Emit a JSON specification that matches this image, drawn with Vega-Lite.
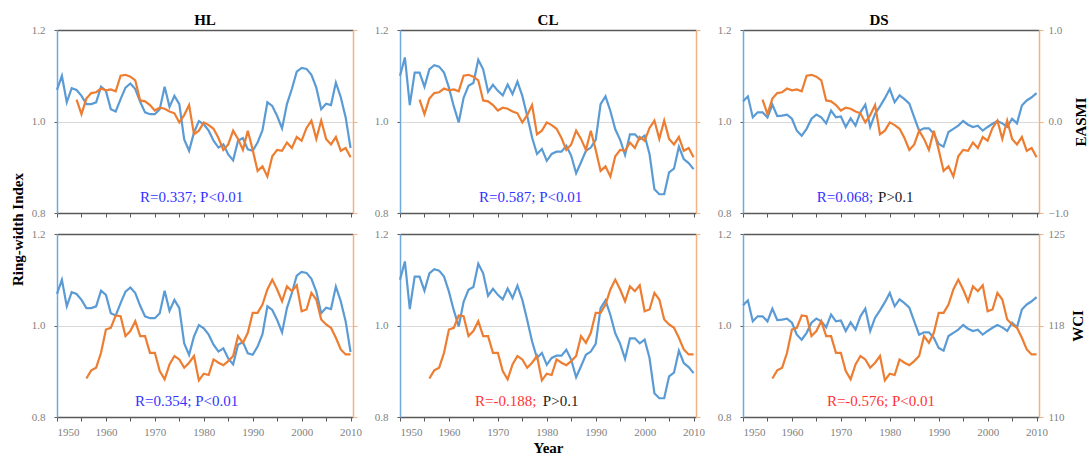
{
  "$schema": "https://vega.github.io/schema/vega-lite/v6.json",
  "padding": {"left": 10, "top": 13, "right": 5, "bottom": 2},
  "background": "white",
  "config": {
    "font": "Liberation Serif",
    "view": {"stroke": null},
    "axis": {"labelFont": "Liberation Serif", "labelFontSize": 11, "labelColor": "#7f7f7f", "titleFont": "Liberation Serif", "titleFontSize": 15, "titleFontWeight": "bold", "titleColor": "#000000", "grid": false},
    "title": {"font": "Liberation Serif", "fontSize": 15, "fontWeight": "bold", "color": "#000000", "offset": -4}
  },
  "datasets": {
    "rwi": [
      {"site":"HL","year":1950,"rwi":1.069},{"site":"HL","year":1951,"rwi":1.100},{"site":"HL","year":1952,"rwi":1.042},{"site":"HL","year":1953,"rwi":1.073},{"site":"HL","year":1954,"rwi":1.069},{"site":"HL","year":1955,"rwi":1.056},{"site":"HL","year":1956,"rwi":1.038},{"site":"HL","year":1957,"rwi":1.038},{"site":"HL","year":1958,"rwi":1.042},{"site":"HL","year":1959,"rwi":1.076},
      {"site":"HL","year":1960,"rwi":1.067},{"site":"HL","year":1961,"rwi":1.027},{"site":"HL","year":1962,"rwi":1.022},{"site":"HL","year":1963,"rwi":1.049},{"site":"HL","year":1964,"rwi":1.074},{"site":"HL","year":1965,"rwi":1.083},{"site":"HL","year":1966,"rwi":1.071},{"site":"HL","year":1967,"rwi":1.043},{"site":"HL","year":1968,"rwi":1.020},{"site":"HL","year":1969,"rwi":1.016},
      {"site":"HL","year":1970,"rwi":1.016},{"site":"HL","year":1971,"rwi":1.027},{"site":"HL","year":1972,"rwi":1.076},{"site":"HL","year":1973,"rwi":1.032},{"site":"HL","year":1974,"rwi":1.056},{"site":"HL","year":1975,"rwi":1.038},{"site":"HL","year":1976,"rwi":0.961},{"site":"HL","year":1977,"rwi":0.936},{"site":"HL","year":1978,"rwi":0.976},{"site":"HL","year":1979,"rwi":1.001},
      {"site":"HL","year":1980,"rwi":0.994},{"site":"HL","year":1981,"rwi":0.980},{"site":"HL","year":1982,"rwi":0.958},{"site":"HL","year":1983,"rwi":0.943},{"site":"HL","year":1984,"rwi":0.950},{"site":"HL","year":1985,"rwi":0.928},{"site":"HL","year":1986,"rwi":0.915},{"site":"HL","year":1987,"rwi":0.958},{"site":"HL","year":1988,"rwi":0.964},{"site":"HL","year":1989,"rwi":0.939},
      {"site":"HL","year":1990,"rwi":0.936},{"site":"HL","year":1991,"rwi":0.954},{"site":"HL","year":1992,"rwi":0.981},{"site":"HL","year":1993,"rwi":1.042},{"site":"HL","year":1994,"rwi":1.034},{"site":"HL","year":1995,"rwi":1.012},{"site":"HL","year":1996,"rwi":0.985},{"site":"HL","year":1997,"rwi":1.038},{"site":"HL","year":1998,"rwi":1.071},{"site":"HL","year":1999,"rwi":1.109},
      {"site":"HL","year":2000,"rwi":1.117},{"site":"HL","year":2001,"rwi":1.115},{"site":"HL","year":2002,"rwi":1.102},{"site":"HL","year":2003,"rwi":1.074},{"site":"HL","year":2004,"rwi":1.027},{"site":"HL","year":2005,"rwi":1.039},{"site":"HL","year":2006,"rwi":1.036},{"site":"HL","year":2007,"rwi":1.085},{"site":"HL","year":2008,"rwi":1.053},{"site":"HL","year":2009,"rwi":1.009},
      {"site":"HL","year":2010,"rwi":0.942},
      {"site":"CL","year":1950,"rwi":1.100},{"site":"CL","year":1951,"rwi":1.140},{"site":"CL","year":1952,"rwi":1.036},{"site":"CL","year":1953,"rwi":1.107},{"site":"CL","year":1954,"rwi":1.107},{"site":"CL","year":1955,"rwi":1.076},{"site":"CL","year":1956,"rwi":1.114},{"site":"CL","year":1957,"rwi":1.123},{"site":"CL","year":1958,"rwi":1.120},{"site":"CL","year":1959,"rwi":1.107},
      {"site":"CL","year":1960,"rwi":1.074},{"site":"CL","year":1961,"rwi":1.033},{"site":"CL","year":1962,"rwi":0.998},{"site":"CL","year":1963,"rwi":1.052},{"site":"CL","year":1964,"rwi":1.078},{"site":"CL","year":1965,"rwi":1.084},{"site":"CL","year":1966,"rwi":1.135},{"site":"CL","year":1967,"rwi":1.114},{"site":"CL","year":1968,"rwi":1.065},{"site":"CL","year":1969,"rwi":1.080},
      {"site":"CL","year":1970,"rwi":1.067},{"site":"CL","year":1971,"rwi":1.057},{"site":"CL","year":1972,"rwi":1.081},{"site":"CL","year":1973,"rwi":1.060},{"site":"CL","year":1974,"rwi":1.087},{"site":"CL","year":1975,"rwi":1.056},{"site":"CL","year":1976,"rwi":1.012},{"site":"CL","year":1977,"rwi":0.965},{"site":"CL","year":1978,"rwi":0.929},{"site":"CL","year":1979,"rwi":0.940},
      {"site":"CL","year":1980,"rwi":0.914},{"site":"CL","year":1981,"rwi":0.929},{"site":"CL","year":1982,"rwi":0.934},{"site":"CL","year":1983,"rwi":0.934},{"site":"CL","year":1984,"rwi":0.947},{"site":"CL","year":1985,"rwi":0.925},{"site":"CL","year":1986,"rwi":0.887},{"site":"CL","year":1987,"rwi":0.911},{"site":"CL","year":1988,"rwi":0.936},{"site":"CL","year":1989,"rwi":0.943},
      {"site":"CL","year":1990,"rwi":0.960},{"site":"CL","year":1991,"rwi":1.038},{"site":"CL","year":1992,"rwi":1.055},{"site":"CL","year":1993,"rwi":1.023},{"site":"CL","year":1994,"rwi":0.983},{"site":"CL","year":1995,"rwi":0.960},{"site":"CL","year":1996,"rwi":0.927},{"site":"CL","year":1997,"rwi":0.972},{"site":"CL","year":1998,"rwi":0.972},{"site":"CL","year":1999,"rwi":0.961},
      {"site":"CL","year":2000,"rwi":0.969},{"site":"CL","year":2001,"rwi":0.929},{"site":"CL","year":2002,"rwi":0.852},{"site":"CL","year":2003,"rwi":0.841},{"site":"CL","year":2004,"rwi":0.841},{"site":"CL","year":2005,"rwi":0.889},{"site":"CL","year":2006,"rwi":0.897},{"site":"CL","year":2007,"rwi":0.945},{"site":"CL","year":2008,"rwi":0.918},{"site":"CL","year":2009,"rwi":0.909},
      {"site":"CL","year":2010,"rwi":0.896},
      {"site":"DS","year":1950,"rwi":1.044},{"site":"DS","year":1951,"rwi":1.055},{"site":"DS","year":1952,"rwi":1.009},{"site":"DS","year":1953,"rwi":1.020},{"site":"DS","year":1954,"rwi":1.020},{"site":"DS","year":1955,"rwi":1.009},{"site":"DS","year":1956,"rwi":1.037},{"site":"DS","year":1957,"rwi":1.012},{"site":"DS","year":1958,"rwi":1.013},{"site":"DS","year":1959,"rwi":1.015},
      {"site":"DS","year":1960,"rwi":1.006},{"site":"DS","year":1961,"rwi":0.980},{"site":"DS","year":1962,"rwi":0.969},{"site":"DS","year":1963,"rwi":0.984},{"site":"DS","year":1964,"rwi":1.006},{"site":"DS","year":1965,"rwi":1.015},{"site":"DS","year":1966,"rwi":1.009},{"site":"DS","year":1967,"rwi":0.996},{"site":"DS","year":1968,"rwi":1.024},{"site":"DS","year":1969,"rwi":1.009},
      {"site":"DS","year":1970,"rwi":1.011},{"site":"DS","year":1971,"rwi":0.988},{"site":"DS","year":1972,"rwi":1.007},{"site":"DS","year":1973,"rwi":0.991},{"site":"DS","year":1974,"rwi":1.020},{"site":"DS","year":1975,"rwi":1.037},{"site":"DS","year":1976,"rwi":0.988},{"site":"DS","year":1977,"rwi":1.017},{"site":"DS","year":1978,"rwi":1.033},{"site":"DS","year":1979,"rwi":1.051},
      {"site":"DS","year":1980,"rwi":1.071},{"site":"DS","year":1981,"rwi":1.042},{"site":"DS","year":1982,"rwi":1.057},{"site":"DS","year":1983,"rwi":1.049},{"site":"DS","year":1984,"rwi":1.039},{"site":"DS","year":1985,"rwi":1.009},{"site":"DS","year":1986,"rwi":0.980},{"site":"DS","year":1987,"rwi":0.985},{"site":"DS","year":1988,"rwi":0.985},{"site":"DS","year":1989,"rwi":0.973},
      {"site":"DS","year":1990,"rwi":0.951},{"site":"DS","year":1991,"rwi":0.945},{"site":"DS","year":1992,"rwi":0.977},{"site":"DS","year":1993,"rwi":0.984},{"site":"DS","year":1994,"rwi":0.991},{"site":"DS","year":1995,"rwi":1.001},{"site":"DS","year":1996,"rwi":0.993},{"site":"DS","year":1997,"rwi":0.988},{"site":"DS","year":1998,"rwi":0.991},{"site":"DS","year":1999,"rwi":0.980},
      {"site":"DS","year":2000,"rwi":0.988},{"site":"DS","year":2001,"rwi":0.995},{"site":"DS","year":2002,"rwi":1.001},{"site":"DS","year":2003,"rwi":0.996},{"site":"DS","year":2004,"rwi":0.988},{"site":"DS","year":2005,"rwi":1.006},{"site":"DS","year":2006,"rwi":0.996},{"site":"DS","year":2007,"rwi":1.035},{"site":"DS","year":2008,"rwi":1.046},{"site":"DS","year":2009,"rwi":1.053},
      {"site":"DS","year":2010,"rwi":1.062}
    ],
    "clim": [
      {"index":"EASMI","year":1954,"value":0.24},{"index":"EASMI","year":1955,"value":0.08},{"index":"EASMI","year":1956,"value":0.25},{"index":"EASMI","year":1957,"value":0.31},{"index":"EASMI","year":1958,"value":0.32},{"index":"EASMI","year":1959,"value":0.36},{"index":"EASMI","year":1960,"value":0.34},{"index":"EASMI","year":1961,"value":0.35},{"index":"EASMI","year":1962,"value":0.33},{"index":"EASMI","year":1963,"value":0.50},
      {"index":"EASMI","year":1964,"value":0.51},{"index":"EASMI","year":1965,"value":0.49},{"index":"EASMI","year":1966,"value":0.45},{"index":"EASMI","year":1967,"value":0.23},{"index":"EASMI","year":1968,"value":0.22},{"index":"EASMI","year":1969,"value":0.18},{"index":"EASMI","year":1970,"value":0.12},{"index":"EASMI","year":1971,"value":0.15},{"index":"EASMI","year":1972,"value":0.14},{"index":"EASMI","year":1973,"value":0.11},
      {"index":"EASMI","year":1974,"value":0.09},{"index":"EASMI","year":1975,"value":-0.01},{"index":"EASMI","year":1976,"value":0.07},{"index":"EASMI","year":1977,"value":0.18},{"index":"EASMI","year":1978,"value":-0.14},{"index":"EASMI","year":1979,"value":-0.10},{"index":"EASMI","year":1980,"value":-0.01},{"index":"EASMI","year":1981,"value":-0.04},{"index":"EASMI","year":1982,"value":-0.08},{"index":"EASMI","year":1983,"value":-0.18},
      {"index":"EASMI","year":1984,"value":-0.31},{"index":"EASMI","year":1985,"value":-0.25},{"index":"EASMI","year":1986,"value":-0.10},{"index":"EASMI","year":1987,"value":-0.19},{"index":"EASMI","year":1988,"value":-0.31},{"index":"EASMI","year":1989,"value":-0.10},{"index":"EASMI","year":1990,"value":-0.31},{"index":"EASMI","year":1991,"value":-0.54},{"index":"EASMI","year":1992,"value":-0.49},{"index":"EASMI","year":1993,"value":-0.60},
      {"index":"EASMI","year":1994,"value":-0.38},{"index":"EASMI","year":1995,"value":-0.31},{"index":"EASMI","year":1996,"value":-0.32},{"index":"EASMI","year":1997,"value":-0.23},{"index":"EASMI","year":1998,"value":-0.29},{"index":"EASMI","year":1999,"value":-0.17},{"index":"EASMI","year":2000,"value":-0.21},{"index":"EASMI","year":2001,"value":-0.07},{"index":"EASMI","year":2002,"value":0.01},{"index":"EASMI","year":2003,"value":-0.19},
      {"index":"EASMI","year":2004,"value":0.01},{"index":"EASMI","year":2005,"value":-0.19},{"index":"EASMI","year":2006,"value":-0.25},{"index":"EASMI","year":2007,"value":-0.17},{"index":"EASMI","year":2008,"value":-0.32},{"index":"EASMI","year":2009,"value":-0.29},{"index":"EASMI","year":2010,"value":-0.39},
      {"index":"WCI","year":1956,"value":113.16},{"index":"WCI","year":1957,"value":113.82},{"index":"WCI","year":1958,"value":114.04},{"index":"WCI","year":1959,"value":115.26},{"index":"WCI","year":1960,"value":117.17},{"index":"WCI","year":1961,"value":117.31},{"index":"WCI","year":1962,"value":118.32},{"index":"WCI","year":1963,"value":118.26},{"index":"WCI","year":1964,"value":116.63},{"index":"WCI","year":1965,"value":117.04},
      {"index":"WCI","year":1966,"value":117.85},{"index":"WCI","year":1967,"value":116.63},{"index":"WCI","year":1968,"value":116.63},{"index":"WCI","year":1969,"value":115.26},{"index":"WCI","year":1970,"value":115.26},{"index":"WCI","year":1971,"value":113.76},{"index":"WCI","year":1972,"value":113.08},{"index":"WCI","year":1973,"value":114.31},{"index":"WCI","year":1974,"value":115.0},{"index":"WCI","year":1975,"value":114.72},
      {"index":"WCI","year":1976,"value":114.04},{"index":"WCI","year":1977,"value":114.45},{"index":"WCI","year":1978,"value":115.0},{"index":"WCI","year":1979,"value":113.0},{"index":"WCI","year":1980,"value":113.55},{"index":"WCI","year":1981,"value":113.44},{"index":"WCI","year":1982,"value":114.72},{"index":"WCI","year":1983,"value":114.45},{"index":"WCI","year":1984,"value":114.25},{"index":"WCI","year":1985,"value":114.58},
      {"index":"WCI","year":1986,"value":115.0},{"index":"WCI","year":1987,"value":116.63},{"index":"WCI","year":1988,"value":116.08},{"index":"WCI","year":1989,"value":116.9},{"index":"WCI","year":1990,"value":118.54},{"index":"WCI","year":1991,"value":118.54},{"index":"WCI","year":1992,"value":119.22},{"index":"WCI","year":1993,"value":120.45},{"index":"WCI","year":1994,"value":121.26},{"index":"WCI","year":1995,"value":120.45},
      {"index":"WCI","year":1996,"value":119.49},{"index":"WCI","year":1997,"value":120.72},{"index":"WCI","year":1998,"value":120.31},{"index":"WCI","year":1999,"value":120.8},{"index":"WCI","year":2000,"value":118.67},{"index":"WCI","year":2001,"value":118.81},{"index":"WCI","year":2002,"value":120.17},{"index":"WCI","year":2003,"value":119.63},{"index":"WCI","year":2004,"value":117.99},{"index":"WCI","year":2005,"value":117.58},
      {"index":"WCI","year":2006,"value":117.31},{"index":"WCI","year":2007,"value":116.49},{"index":"WCI","year":2008,"value":115.54},{"index":"WCI","year":2009,"value":115.13},{"index":"WCI","year":2010,"value":115.13}
    ],
    "notes": [
      {"panel":"HL-EASMI","part":"whole","year":1977.5,"rwi":0.834,"label":"R=0.337; P<0.01","tone":"pos"},
      {"panel":"CL-EASMI","part":"whole","year":1976.7,"rwi":0.834,"label":"R=0.587; P<0.01","tone":"pos"},
      {"panel":"DS-EASMI","part":"lead","year":1976.6,"rwi":0.834,"label":"R=0.068;","tone":"pos"},
      {"panel":"DS-EASMI","part":"tail","year":1977.6,"rwi":0.834,"label":"P>0.1","tone":"ns"},
      {"panel":"HL-WCI","part":"whole","year":1976.5,"rwi":0.834,"label":"R=0.354; P<0.01","tone":"pos"},
      {"panel":"CL-WCI","part":"lead","year":1977.9,"rwi":0.834,"label":"R=-0.188;","tone":"neg"},
      {"panel":"CL-WCI","part":"tail","year":1979.2,"rwi":0.834,"label":"P>0.1","tone":"ns"},
      {"panel":"DS-WCI","part":"whole","year":1978.2,"rwi":0.834,"label":"R=-0.576; P<0.01","tone":"neg"}
    ]
  },
  "columns": 3,
  "spacing": {"row": 21, "column": 47},
  "bounds": "flush",
  "resolve": {"scale": {"x": "independent", "y": "independent", "color": "independent"}},
  "concat": [
    {
      "width": 296, "height": 183,
      "title": {"text": "HL"},
      "layer": [
        {"data": {"name": "rwi"}, "transform": [{"filter": "datum.site === 'HL'"}],
         "mark": {"type": "line", "color": "#5b9bd5", "strokeWidth": 2.2},
         "encoding": {
           "x": {"field": "year", "type": "quantitative", "scale": {"domain": [1950, 2010.5], "nice": false, "zero": false}, "axis": {"orient": "bottom", "values": [1950,1955,1960,1965,1970,1975,1980,1985,1990,1995,2000,2005,2010], "labels": false, "domainColor": "#595959", "domainWidth": 1.5, "tickColor": "#595959", "tickSize": 4, "title": null}},
           "y": {"field": "rwi", "type": "quantitative", "scale": {"domain": [0.8, 1.2], "nice": false, "zero": false}, "axis": {"orient": "left", "values": [0.8, 1.0, 1.2], "format": ".1f", "domainColor": "#6fa8dc", "domainWidth": 1.5, "tickColor": "#595959", "tickSize": 3, "labelPadding": 9, "grid": true, "gridColor": "#d9d9d9", "gridOpacity": {"condition": {"test": "abs(datum.value - 1) < 0.001", "value": 1}, "value": 0}, "title": "Ring-width Index", "titleY": 199, "titlePadding": 6}}
         }},
        {"data": {"name": "clim"}, "transform": [{"filter": "datum.index === 'EASMI'"}],
         "mark": {"type": "line", "color": "#ed7d31", "strokeWidth": 2.2},
         "encoding": {
           "x": {"field": "year", "type": "quantitative", "scale": {"domain": [1950, 2010.5], "nice": false, "zero": false}, "axis": {"orient": "top", "ticks": false, "labels": false, "domainColor": "#595959", "domainWidth": 1.5, "title": null}},
           "y": {"field": "value", "type": "quantitative", "scale": {"domain": [-1, 1], "nice": false, "zero": false}, "axis": {"orient": "right", "values": [-1, 0, 1], "labels": false, "domainColor": "#f4b183", "domainWidth": 1.5, "tickColor": "#f4b183", "tickSize": 4, "title": null}}
         }},
        {"data": {"name": "notes"}, "transform": [{"filter": "datum.panel === 'HL-EASMI'"}],
         "mark": {"type": "text", "font": "Liberation Serif", "fontSize": 15, "align": "center", "baseline": "middle"},
         "encoding": {
           "x": {"field": "year", "type": "quantitative", "scale": {"domain": [1950, 2010.5], "nice": false, "zero": false}, "axis": null},
           "y": {"field": "rwi", "type": "quantitative", "scale": {"domain": [0.8, 1.2], "nice": false, "zero": false}, "axis": null},
           "text": {"field": "label"},
           "color": {"field": "tone", "type": "nominal", "scale": {"domain": ["pos", "neg", "ns"], "range": ["#3333ff", "#ff3333", "#1a1a1a"]}, "legend": null}
         }}
      ],
      "resolve": {"scale": {"y": "independent"}, "axis": {"x": "independent"}}
    },
    {
      "width": 296, "height": 183,
      "title": {"text": "CL"},
      "layer": [
        {"data": {"name": "rwi"}, "transform": [{"filter": "datum.site === 'CL'"}],
         "mark": {"type": "line", "color": "#5b9bd5", "strokeWidth": 2.2},
         "encoding": {
           "x": {"field": "year", "type": "quantitative", "scale": {"domain": [1950, 2010.5], "nice": false, "zero": false}, "axis": {"orient": "bottom", "values": [1950,1955,1960,1965,1970,1975,1980,1985,1990,1995,2000,2005,2010], "labels": false, "domainColor": "#595959", "domainWidth": 1.5, "tickColor": "#595959", "tickSize": 4, "title": null}},
           "y": {"field": "rwi", "type": "quantitative", "scale": {"domain": [0.8, 1.2], "nice": false, "zero": false}, "axis": {"orient": "left", "values": [0.8, 1.0, 1.2], "format": ".1f", "domainColor": "#6fa8dc", "domainWidth": 1.5, "tickColor": "#595959", "tickSize": 3, "labelPadding": 9, "grid": true, "gridColor": "#d9d9d9", "gridOpacity": {"condition": {"test": "abs(datum.value - 1) < 0.001", "value": 1}, "value": 0}, "title": null}}
         }},
        {"data": {"name": "clim"}, "transform": [{"filter": "datum.index === 'EASMI'"}],
         "mark": {"type": "line", "color": "#ed7d31", "strokeWidth": 2.2},
         "encoding": {
           "x": {"field": "year", "type": "quantitative", "scale": {"domain": [1950, 2010.5], "nice": false, "zero": false}, "axis": {"orient": "top", "ticks": false, "labels": false, "domainColor": "#595959", "domainWidth": 1.5, "title": null}},
           "y": {"field": "value", "type": "quantitative", "scale": {"domain": [-1, 1], "nice": false, "zero": false}, "axis": {"orient": "right", "values": [-1, 0, 1], "labels": false, "domainColor": "#f4b183", "domainWidth": 1.5, "tickColor": "#f4b183", "tickSize": 4, "title": null}}
         }},
        {"data": {"name": "notes"}, "transform": [{"filter": "datum.panel === 'CL-EASMI'"}],
         "mark": {"type": "text", "font": "Liberation Serif", "fontSize": 15, "align": "center", "baseline": "middle"},
         "encoding": {
           "x": {"field": "year", "type": "quantitative", "scale": {"domain": [1950, 2010.5], "nice": false, "zero": false}, "axis": null},
           "y": {"field": "rwi", "type": "quantitative", "scale": {"domain": [0.8, 1.2], "nice": false, "zero": false}, "axis": null},
           "text": {"field": "label"},
           "color": {"field": "tone", "type": "nominal", "scale": {"domain": ["pos", "neg", "ns"], "range": ["#3333ff", "#ff3333", "#1a1a1a"]}, "legend": null}
         }}
      ],
      "resolve": {"scale": {"y": "independent"}, "axis": {"x": "independent"}}
    },
    {
      "width": 296, "height": 183,
      "title": {"text": "DS", "dx": -12},
      "layer": [
        {"data": {"name": "rwi"}, "transform": [{"filter": "datum.site === 'DS'"}],
         "mark": {"type": "line", "color": "#5b9bd5", "strokeWidth": 2.2},
         "encoding": {
           "x": {"field": "year", "type": "quantitative", "scale": {"domain": [1950, 2010.5], "nice": false, "zero": false}, "axis": {"orient": "bottom", "values": [1950,1955,1960,1965,1970,1975,1980,1985,1990,1995,2000,2005,2010], "labels": false, "domainColor": "#595959", "domainWidth": 1.5, "tickColor": "#595959", "tickSize": 4, "title": null}},
           "y": {"field": "rwi", "type": "quantitative", "scale": {"domain": [0.8, 1.2], "nice": false, "zero": false}, "axis": {"orient": "left", "values": [0.8, 1.0, 1.2], "format": ".1f", "domainColor": "#6fa8dc", "domainWidth": 1.5, "tickColor": "#595959", "tickSize": 3, "labelPadding": 9, "grid": true, "gridColor": "#d9d9d9", "gridOpacity": {"condition": {"test": "abs(datum.value - 1) < 0.001", "value": 1}, "value": 0}, "title": null}}
         }},
        {"data": {"name": "clim"}, "transform": [{"filter": "datum.index === 'EASMI'"}],
         "mark": {"type": "line", "color": "#ed7d31", "strokeWidth": 2.2},
         "encoding": {
           "x": {"field": "year", "type": "quantitative", "scale": {"domain": [1950, 2010.5], "nice": false, "zero": false}, "axis": {"orient": "top", "ticks": false, "labels": false, "domainColor": "#595959", "domainWidth": 1.5, "title": null}},
           "y": {"field": "value", "type": "quantitative", "scale": {"domain": [-1, 1], "nice": false, "zero": false}, "axis": {"orient": "right", "values": [-1, 0, 1], "format": ".1f", "labels": true, "labelPadding": 5, "domainColor": "#f4b183", "domainWidth": 1.5, "tickColor": "#f4b183", "tickSize": 4, "title": "EASMI", "titleAngle": 270, "titleBaseline": "top", "titlePadding": 6}}
         }},
        {"data": {"name": "notes"}, "transform": [{"filter": "datum.panel === 'DS-EASMI' && datum.part === 'lead'"}],
         "mark": {"type": "text", "font": "Liberation Serif", "fontSize": 15, "align": "right", "baseline": "middle"},
         "encoding": {
           "x": {"field": "year", "type": "quantitative", "scale": {"domain": [1950, 2010.5], "nice": false, "zero": false}, "axis": null},
           "y": {"field": "rwi", "type": "quantitative", "scale": {"domain": [0.8, 1.2], "nice": false, "zero": false}, "axis": null},
           "text": {"field": "label"},
           "color": {"field": "tone", "type": "nominal", "scale": {"domain": ["pos", "neg", "ns"], "range": ["#3333ff", "#ff3333", "#1a1a1a"]}, "legend": null}
         }},
        {"data": {"name": "notes"}, "transform": [{"filter": "datum.panel === 'DS-EASMI' && datum.part === 'tail'"}],
         "mark": {"type": "text", "font": "Liberation Serif", "fontSize": 15, "align": "left", "baseline": "middle"},
         "encoding": {
           "x": {"field": "year", "type": "quantitative", "scale": {"domain": [1950, 2010.5], "nice": false, "zero": false}, "axis": null},
           "y": {"field": "rwi", "type": "quantitative", "scale": {"domain": [0.8, 1.2], "nice": false, "zero": false}, "axis": null},
           "text": {"field": "label"},
           "color": {"field": "tone", "type": "nominal", "scale": {"domain": ["pos", "neg", "ns"], "range": ["#3333ff", "#ff3333", "#1a1a1a"]}, "legend": null}
         }}
      ],
      "resolve": {"scale": {"y": "independent"}, "axis": {"x": "independent"}}
    },
    {
      "width": 296, "height": 183,
      "layer": [
        {"data": {"name": "rwi"}, "transform": [{"filter": "datum.site === 'HL'"}],
         "mark": {"type": "line", "color": "#5b9bd5", "strokeWidth": 2.2},
         "encoding": {
           "x": {"field": "year", "type": "quantitative", "scale": {"domain": [1950, 2010.5], "nice": false, "zero": false}, "axis": {"orient": "bottom", "values": [1950,1955,1960,1965,1970,1975,1980,1985,1990,1995,2000,2005,2010], "format": "d", "labelExpr": "datum.value % 10 === 0 ? datum.label : ''", "labelPadding": 5, "domainColor": "#595959", "domainWidth": 1.5, "tickColor": "#595959", "tickSize": 4, "title": null}},
           "y": {"field": "rwi", "type": "quantitative", "scale": {"domain": [0.8, 1.2], "nice": false, "zero": false}, "axis": {"orient": "left", "values": [0.8, 1.0, 1.2], "format": ".1f", "domainColor": "#6fa8dc", "domainWidth": 1.5, "tickColor": "#595959", "tickSize": 3, "labelPadding": 9, "grid": true, "gridColor": "#d9d9d9", "gridOpacity": {"condition": {"test": "abs(datum.value - 1) < 0.001", "value": 1}, "value": 0}, "title": null}}
         }},
        {"data": {"name": "clim"}, "transform": [{"filter": "datum.index === 'WCI'"}],
         "mark": {"type": "line", "color": "#ed7d31", "strokeWidth": 2.2},
         "encoding": {
           "x": {"field": "year", "type": "quantitative", "scale": {"domain": [1950, 2010.5], "nice": false, "zero": false}, "axis": {"orient": "top", "ticks": false, "labels": false, "domainColor": "#595959", "domainWidth": 1.5, "title": null}},
           "y": {"field": "value", "type": "quantitative", "scale": {"domain": [110, 125], "nice": false, "zero": false}, "axis": {"orient": "right", "values": [110, 117.5, 125], "labels": false, "domainColor": "#f4b183", "domainWidth": 1.5, "tickColor": "#f4b183", "tickSize": 4, "title": null}}
         }},
        {"data": {"name": "notes"}, "transform": [{"filter": "datum.panel === 'HL-WCI'"}],
         "mark": {"type": "text", "font": "Liberation Serif", "fontSize": 15, "align": "center", "baseline": "middle"},
         "encoding": {
           "x": {"field": "year", "type": "quantitative", "scale": {"domain": [1950, 2010.5], "nice": false, "zero": false}, "axis": null},
           "y": {"field": "rwi", "type": "quantitative", "scale": {"domain": [0.8, 1.2], "nice": false, "zero": false}, "axis": null},
           "text": {"field": "label"},
           "color": {"field": "tone", "type": "nominal", "scale": {"domain": ["pos", "neg", "ns"], "range": ["#3333ff", "#ff3333", "#1a1a1a"]}, "legend": null}
         }}
      ],
      "resolve": {"scale": {"y": "independent"}, "axis": {"x": "independent"}}
    },
    {
      "width": 296, "height": 183,
      "layer": [
        {"data": {"name": "rwi"}, "transform": [{"filter": "datum.site === 'CL'"}],
         "mark": {"type": "line", "color": "#5b9bd5", "strokeWidth": 2.2},
         "encoding": {
           "x": {"field": "year", "type": "quantitative", "scale": {"domain": [1950, 2010.5], "nice": false, "zero": false}, "axis": {"orient": "bottom", "values": [1950,1955,1960,1965,1970,1975,1980,1985,1990,1995,2000,2005,2010], "format": "d", "labelExpr": "datum.value % 10 === 0 ? datum.label : ''", "labelPadding": 5, "domainColor": "#595959", "domainWidth": 1.5, "tickColor": "#595959", "tickSize": 4, "title": "Year", "titlePadding": 3}},
           "y": {"field": "rwi", "type": "quantitative", "scale": {"domain": [0.8, 1.2], "nice": false, "zero": false}, "axis": {"orient": "left", "values": [0.8, 1.0, 1.2], "format": ".1f", "domainColor": "#6fa8dc", "domainWidth": 1.5, "tickColor": "#595959", "tickSize": 3, "labelPadding": 9, "grid": true, "gridColor": "#d9d9d9", "gridOpacity": {"condition": {"test": "abs(datum.value - 1) < 0.001", "value": 1}, "value": 0}, "title": null}}
         }},
        {"data": {"name": "clim"}, "transform": [{"filter": "datum.index === 'WCI'"}],
         "mark": {"type": "line", "color": "#ed7d31", "strokeWidth": 2.2},
         "encoding": {
           "x": {"field": "year", "type": "quantitative", "scale": {"domain": [1950, 2010.5], "nice": false, "zero": false}, "axis": {"orient": "top", "ticks": false, "labels": false, "domainColor": "#595959", "domainWidth": 1.5, "title": null}},
           "y": {"field": "value", "type": "quantitative", "scale": {"domain": [110, 125], "nice": false, "zero": false}, "axis": {"orient": "right", "values": [110, 117.5, 125], "labels": false, "domainColor": "#f4b183", "domainWidth": 1.5, "tickColor": "#f4b183", "tickSize": 4, "title": null}}
         }},
        {"data": {"name": "notes"}, "transform": [{"filter": "datum.panel === 'CL-WCI' && datum.part === 'lead'"}],
         "mark": {"type": "text", "font": "Liberation Serif", "fontSize": 15, "align": "right", "baseline": "middle"},
         "encoding": {
           "x": {"field": "year", "type": "quantitative", "scale": {"domain": [1950, 2010.5], "nice": false, "zero": false}, "axis": null},
           "y": {"field": "rwi", "type": "quantitative", "scale": {"domain": [0.8, 1.2], "nice": false, "zero": false}, "axis": null},
           "text": {"field": "label"},
           "color": {"field": "tone", "type": "nominal", "scale": {"domain": ["pos", "neg", "ns"], "range": ["#3333ff", "#ff3333", "#1a1a1a"]}, "legend": null}
         }},
        {"data": {"name": "notes"}, "transform": [{"filter": "datum.panel === 'CL-WCI' && datum.part === 'tail'"}],
         "mark": {"type": "text", "font": "Liberation Serif", "fontSize": 15, "align": "left", "baseline": "middle"},
         "encoding": {
           "x": {"field": "year", "type": "quantitative", "scale": {"domain": [1950, 2010.5], "nice": false, "zero": false}, "axis": null},
           "y": {"field": "rwi", "type": "quantitative", "scale": {"domain": [0.8, 1.2], "nice": false, "zero": false}, "axis": null},
           "text": {"field": "label"},
           "color": {"field": "tone", "type": "nominal", "scale": {"domain": ["pos", "neg", "ns"], "range": ["#3333ff", "#ff3333", "#1a1a1a"]}, "legend": null}
         }}
      ],
      "resolve": {"scale": {"y": "independent"}, "axis": {"x": "independent"}}
    },
    {
      "width": 296, "height": 183,
      "layer": [
        {"data": {"name": "rwi"}, "transform": [{"filter": "datum.site === 'DS'"}],
         "mark": {"type": "line", "color": "#5b9bd5", "strokeWidth": 2.2},
         "encoding": {
           "x": {"field": "year", "type": "quantitative", "scale": {"domain": [1950, 2010.5], "nice": false, "zero": false}, "axis": {"orient": "bottom", "values": [1950,1955,1960,1965,1970,1975,1980,1985,1990,1995,2000,2005,2010], "format": "d", "labelExpr": "datum.value % 10 === 0 ? datum.label : ''", "labelPadding": 5, "domainColor": "#595959", "domainWidth": 1.5, "tickColor": "#595959", "tickSize": 4, "title": null}},
           "y": {"field": "rwi", "type": "quantitative", "scale": {"domain": [0.8, 1.2], "nice": false, "zero": false}, "axis": {"orient": "left", "values": [0.8, 1.0, 1.2], "format": ".1f", "domainColor": "#6fa8dc", "domainWidth": 1.5, "tickColor": "#595959", "tickSize": 3, "labelPadding": 9, "grid": true, "gridColor": "#d9d9d9", "gridOpacity": {"condition": {"test": "abs(datum.value - 1) < 0.001", "value": 1}, "value": 0}, "title": null}}
         }},
        {"data": {"name": "clim"}, "transform": [{"filter": "datum.index === 'WCI'"}],
         "mark": {"type": "line", "color": "#ed7d31", "strokeWidth": 2.2},
         "encoding": {
           "x": {"field": "year", "type": "quantitative", "scale": {"domain": [1950, 2010.5], "nice": false, "zero": false}, "axis": {"orient": "top", "ticks": false, "labels": false, "domainColor": "#595959", "domainWidth": 1.5, "title": null}},
           "y": {"field": "value", "type": "quantitative", "scale": {"domain": [110, 125], "nice": false, "zero": false}, "axis": {"orient": "right", "values": [110, 117.5, 125], "format": ".0f", "labels": true, "labelPadding": 5, "domainColor": "#f4b183", "domainWidth": 1.5, "tickColor": "#f4b183", "tickSize": 4, "title": "WCI", "titleAngle": 270, "titleBaseline": "top", "titlePadding": 6}}
         }},
        {"data": {"name": "notes"}, "transform": [{"filter": "datum.panel === 'DS-WCI'"}],
         "mark": {"type": "text", "font": "Liberation Serif", "fontSize": 15, "align": "center", "baseline": "middle"},
         "encoding": {
           "x": {"field": "year", "type": "quantitative", "scale": {"domain": [1950, 2010.5], "nice": false, "zero": false}, "axis": null},
           "y": {"field": "rwi", "type": "quantitative", "scale": {"domain": [0.8, 1.2], "nice": false, "zero": false}, "axis": null},
           "text": {"field": "label"},
           "color": {"field": "tone", "type": "nominal", "scale": {"domain": ["pos", "neg", "ns"], "range": ["#3333ff", "#ff3333", "#1a1a1a"]}, "legend": null}
         }}
      ],
      "resolve": {"scale": {"y": "independent"}, "axis": {"x": "independent"}}
    }
  ]
}
